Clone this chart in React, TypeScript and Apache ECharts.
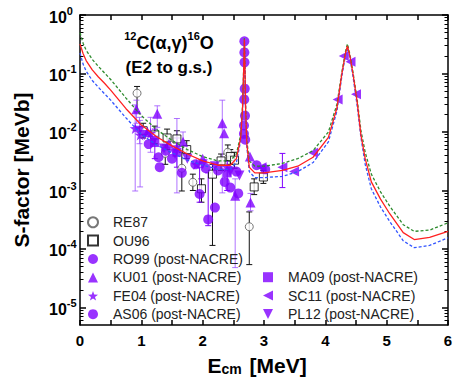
import React, { useEffect, useRef } from 'react';
import * as echarts from 'echarts';

// ---------- curves (S in MeV b vs E_cm in MeV) ----------
const curveE = [0, 0.05, 0.1, 0.2, 0.3, 0.4, 0.5, 0.75, 1.0, 1.25, 1.5, 1.75, 2.0, 2.25, 2.45, 2.55, 2.62, 2.65, 2.67, 2.68, 2.69, 2.7, 2.72, 2.76, 2.85, 3.0, 3.3, 3.55, 3.8, 4.05, 4.19, 4.27, 4.33, 4.36, 4.4, 4.45, 4.52, 4.58, 4.65, 4.75, 4.9, 5.05, 5.27, 5.45, 5.7, 6.0];
const curveRed = [0.32, 0.22, 0.166, 0.115, 0.087, 0.068, 0.052, 0.025, 0.0132, 0.0083, 0.0058, 0.0042, 0.0032, 0.0027, 0.0027, 0.0035, 0.0079, 0.025, 0.126, 0.38, 0.126, 0.025, 0.0063, 0.0025, 0.002, 0.002, 0.0022, 0.0026, 0.0037, 0.0081, 0.026, 0.1, 0.224, 0.295, 0.2, 0.1, 0.032, 0.0089, 0.0035, 0.0014, 0.00071, 0.0004, 0.00019, 0.000145, 0.000158, 0.0002];
const curveGreen = [0.5, 0.33, 0.25, 0.174, 0.132, 0.102, 0.079, 0.038, 0.019, 0.011, 0.0072, 0.005, 0.0038, 0.0032, 0.0032, 0.0042, 0.0089, 0.028, 0.141, 0.4, 0.141, 0.028, 0.0071, 0.0032, 0.0026, 0.0026, 0.0029, 0.0035, 0.0048, 0.01, 0.03, 0.107, 0.24, 0.32, 0.214, 0.107, 0.035, 0.0107, 0.0045, 0.0019, 0.00095, 0.00054, 0.00026, 0.0002, 0.00021, 0.00028];
const curveBlue = [0.224, 0.145, 0.11, 0.076, 0.058, 0.045, 0.035, 0.0174, 0.0091, 0.006, 0.0044, 0.0033, 0.0027, 0.0023, 0.0023, 0.003, 0.0071, 0.022, 0.112, 0.355, 0.112, 0.022, 0.0056, 0.0021, 0.00166, 0.00166, 0.00174, 0.0021, 0.003, 0.0068, 0.023, 0.091, 0.209, 0.275, 0.186, 0.091, 0.0275, 0.0081, 0.0028, 0.00107, 0.00052, 0.000295, 0.000138, 0.000105, 0.000115, 0.000155];

// ---------- data sets: [E, S, S_low, S_high] ----------
const RE87 = [
  [0.93, 0.046, 0.022, 0.06],
  [1.39, 0.0043, 0.0028, 0.006],
  [1.66, 0.0024, 0.00098, 0.0045],
  [1.84, 0.00138, 0.001, 0.0019],
  [2.41, 0.0045, 0.0032, 0.006],
  [2.76, 0.00024, 0.000054, 0.00043],
];
const OU96 = [
  [1.03, 0.0105, 0.0079, 0.0141],
  [1.22, 0.0089, 0.0063, 0.0126],
  [1.42, 0.0079, 0.005, 0.0112],
  [1.58, 0.0076, 0.005, 0.0105],
  [1.74, 0.005, 0.0035, 0.0071],
  [1.98, 0.00107, 0.00063, 0.00158],
  [2.16, 0.0019, 0.000115, 0.0028],
  [2.3, 0.0032, 0.0022, 0.0042],
  [2.45, 0.0038, 0.0028, 0.005],
  [2.52, 0.0033, 0.0024, 0.0045],
  [2.84, 0.00115, 0.00085, 0.00158],
  [2.99, 0.0017, 0.00132, 0.0022],
];
const RO99 = [
  [2.68, 0.355], [2.68, 0.229], [2.682, 0.155], [2.686, 0.055], [2.678, 0.036],
  [2.69, 0.019], [2.674, 0.0129], [2.673, 0.0093], [2.694, 0.0074],
  [2.88, 0.0027], [3.02, 0.0023],
];
const KU01 = [
  [0.92, 0.0245, 0.0141, 0.035],
  [1.1, 0.01],
  [1.26, 0.0204, 0.012, 0.028],
  [1.45, 0.0063],
  [1.68, 0.0068, 0.0045, 0.01],
  [2.0, 0.0035],
  [2.32, 0.0141, 0.00091, 0.035],
  [2.35, 0.0095],
  [2.53, 0.00081, 0.000048, 0.00158],
  [2.77, 0.0038],
  [2.78, 0.00062, 0.00045, 0.00089],
];
const FE04 = [
  [0.9, 0.0115, 0.00098, 0.029],
  [0.98, 0.0089, 0.00115, 0.0158],
  [1.15, 0.0095, 0.0045, 0.0178],
  [1.58, 0.0056, 0.00091, 0.017],
  [1.9, 0.0028],
  [2.4, 0.0025],
];
const AS06 = [
  [1.28, 0.0037], [1.3, 0.0025], [1.5, 0.0035], [1.66, 0.002], [1.88, 0.0028],
  [1.95, 0.00087, 0.00063, 0.0025], [2.05, 0.0024], [2.09, 0.00032, 0.00025, 0.002],
  [2.2, 0.00051], [2.25, 0.0022], [2.36, 0.0014], [2.45, 0.00112], [2.58, 0.00089],
  [1.12, 0.0062], [1.4, 0.0048], [2.55, 0.0021],
];
const MA09 = [
  [1.22, 0.0066, 0.0035, 0.0112],
  [1.58, 0.0045, 0.0025, 0.0079],
  [2.4, 0.002, 0.001, 0.0032],
];
const SC11 = [
  [2.96, 0.0025], [3.3, 0.0025, 0.00112, 0.0043], [3.49, 0.0021], [3.8, 0.0044],
  [4.2, 0.036], [4.3, 0.2], [4.41, 0.158], [4.5, 0.044],
];
const PL12 = [
  [0.97, 0.0105, 0.0063, 0.0178], [1.05, 0.0089], [1.2, 0.0071], [1.37, 0.0052],
  [1.55, 0.0042], [1.75, 0.0035], [2.0, 0.0028], [2.2, 0.0026], [2.45, 0.0021], [2.6, 0.0018],
];

// ---------- axes ----------
const yDecades = [-5, -4, -3, -2, -1, 0];
const minorMultipliers = [2, 3, 4, 5, 6, 7, 8, 9];
const yMinLog = -5.3;
const yStep = 0.1;
const xMin = 0, xMax = 6, xStep = 0.5;

const legendLeft = ['RE87', 'OU96', 'RO99 (post-NACRE)', 'KU01 (post-NACRE)', 'FE04 (post-NACRE)', 'AS06 (post-NACRE)'];
const legendRight = ['MA09 (post-NACRE)', 'SC11 (post-NACRE)', 'PL12 (post-NACRE)'];

const FONT = '"Liberation Sans", Arial, sans-serif';
const PURPLE = '#7f00ff';
const LIGHT = 'rgba(150, 70, 255, 0.75)';

const STAR = 'path://M0,-10L2.35,-3.24L9.51,-3.09L3.8,1.24L5.88,8.09L0,4L-5.88,8.09L-3.8,1.24L-9.51,-3.09L-2.35,-3.24Z';
const LEFT_TRI = 'path://M0,5L10,0L10,10Z';
const DOWN_TRI = 'path://M0,0L10,0L5,10Z';

const lg = (v: number) => Math.log10(v);

function pts(arr: number[][]) {
  return arr.map((p) => [p[0], lg(p[1])]);
}
function errs(arr: number[][]) {
  return arr.filter((p) => p.length > 3).map((p) => [p[0], lg(p[2]), lg(p[3])]);
}

function errSeries(data: number[][], color: string) {
  return {
    type: 'custom',
    data,
    z: 2,
    silent: true,
    clip: true,
    encode: { x: 0, y: [1, 2] },
    renderItem: (_params: any, api: any) => {
      const x = api.value(0);
      const p1 = api.coord([x, api.value(1)]);
      const p2 = api.coord([x, api.value(2)]);
      const hw = 3;
      const st = { stroke: color, lineWidth: 1 };
      return {
        type: 'group',
        children: [
          { type: 'line', shape: { x1: p1[0], y1: p1[1], x2: p2[0], y2: p2[1] }, style: st },
          { type: 'line', shape: { x1: p1[0] - hw, y1: p1[1], x2: p1[0] + hw, y2: p1[1] }, style: st },
          { type: 'line', shape: { x1: p2[0] - hw, y1: p2[1], x2: p2[0] + hw, y2: p2[1] }, style: st },
        ],
      };
    },
  };
}

function scatter(name: string, arr: number[][], symbol: string, size: number, itemStyle: any) {
  return {
    type: 'scatter',
    name,
    data: pts(arr),
    symbol,
    symbolSize: size,
    itemStyle,
    z: 3,
  };
}

function curve(vals: number[], color: string, dashed: boolean) {
  return {
    type: 'line',
    data: curveE.map((e, i) => [e, lg(vals[i])]),
    showSymbol: false,
    symbol: 'none',
    z: 5,
    silent: true,
    lineStyle: { color, width: 1.3, type: dashed ? [3, 2] : 'solid' },
  };
}

export default function App() {
  const ref = useRef<HTMLDivElement>(null);
  useEffect(() => {
    if (!ref.current) return;
    const chart = echarts.init(ref.current, null, { renderer: 'svg' });
    const minorTicks: number[] = [];
    for (let d = -6; d < 0; d++) {
      for (const m of minorMultipliers) {
        const v = d + lg(m);
        if (v > yMinLog && v < 0) minorTicks.push(v);
      }
    }
    const axisLine = { show: true, onZero: false, lineStyle: { color: '#000', width: 1.5 } };
    const yBase = { type: 'value', min: yMinLog, max: 0, interval: yStep, splitLine: { show: false } };
    const xBase = { type: 'value', min: xMin, max: xMax, interval: xStep, splitLine: { show: false } };
    const labelRich = {
      b: { fontSize: 16, fontWeight: 'bold', fontFamily: FONT, color: '#000', lineHeight: 20, verticalAlign: 'bottom' },
      s: { fontSize: 11, fontWeight: 'bold', fontFamily: FONT, color: '#000', lineHeight: 11, verticalAlign: 'top' },
    };
    const legendCommon = {
      orient: 'vertical',
      itemWidth: 10,
      itemHeight: 10,
      itemGap: 0,
      padding: 0,
      selectedMode: false,
      textStyle: { fontSize: 14, fontFamily: FONT, color: '#222', lineHeight: 18.4, padding: [0, 0, 0, 10] },
    };
    chart.setOption({
      animation: false,
      backgroundColor: '#fff',
      grid: { left: 80, top: 15, right: 8, bottom: 53, containLabel: false, outerBoundsMode: 'none' },
      xAxis: [
        {
          ...xBase,
          position: 'bottom',
          axisLine,
          axisTick: { inside: true, length: 5, lineStyle: { width: 1.5, color: '#000' } },
          axisLabel: {
            margin: 8,
            fontSize: 15,
            fontWeight: 'bold',
            fontFamily: FONT,
            color: '#000',
            formatter: (v: number) => (Math.abs(v - Math.round(v)) < 1e-6 ? String(Math.round(v)) : ''),
          },
          name: '{m|E}{s|cm}{m| [MeV]}',
          nameLocation: 'middle',
          nameGap: 21,
          nameTextStyle: {
            padding: [0, 14, 0, 0],
            rich: {
              m: { fontSize: 21, fontWeight: 'bold', fontFamily: FONT, color: '#000', lineHeight: 21, verticalAlign: 'top' },
              s: { fontSize: 14, fontWeight: 'bold', fontFamily: FONT, color: '#000', lineHeight: 14, padding: [9, 2, 0, 0], verticalAlign: 'bottom' },
            },
          },
        },
        {
          ...xBase,
          position: 'top',
          axisLine,
          axisTick: { inside: true, length: 5, lineStyle: { width: 1.5, color: '#000' } },
          axisLabel: { show: false },
        },
      ],
      yAxis: [
        {
          ...yBase,
          position: 'left',
          axisLine,
          axisTick: { inside: true, length: 6, customValues: yDecades, lineStyle: { width: 1.5, color: '#000' } },
          axisLabel: {
            customValues: yDecades,
            align: 'left',
            margin: 31,
            formatter: (v: number) => `{b|10}{s|${Math.round(v)}}`,
            rich: labelRich,
          },
          name: 'S-factor [MeVb]',
          nameLocation: 'middle',
          nameGap: 48,
          nameTextStyle: { fontSize: 21, fontWeight: 'bold', fontFamily: FONT, color: '#000' },
        },
        {
          ...yBase,
          position: 'left',
          axisLine: { show: false, onZero: false },
          axisTick: { inside: true, length: 3.5, customValues: minorTicks, lineStyle: { width: 1, color: '#000' } },
          axisLabel: { show: false },
        },
        {
          ...yBase,
          position: 'right',
          axisLine,
          axisTick: { inside: true, length: 6, customValues: yDecades, lineStyle: { width: 1.5, color: '#000' } },
          axisLabel: { show: false },
        },
        {
          ...yBase,
          position: 'right',
          axisLine: { show: false, onZero: false },
          axisTick: { inside: true, length: 3.5, customValues: minorTicks, lineStyle: { width: 1, color: '#000' } },
          axisLabel: { show: false },
        },
      ],
      legend: [
        { ...legendCommon, data: legendLeft, left: 87, top: 213 },
        { ...legendCommon, data: legendRight, left: 263, top: 268 },
      ],
      graphic: [
        {
          type: 'text',
          x: 169,
          y: 41,
          style: {
            text: '{s|12}{b|C(α,γ)}{s|16}{b|O}',
            textAlign: 'center',
            textVerticalAlign: 'middle',
            rich: {
              b: { fontSize: 18, fontWeight: 'bold', fontFamily: FONT, fill: '#000', lineHeight: 22, verticalAlign: 'bottom' },
              s: { fontSize: 11, fontWeight: 'bold', fontFamily: FONT, fill: '#000', lineHeight: 11, verticalAlign: 'top' },
            },
          },
        },
        {
          type: 'text',
          x: 169,
          y: 67,
          style: {
            text: '(E2 to g.s.)',
            font: `bold 17px ${FONT}`,
            fill: '#000',
            textAlign: 'center',
            textVerticalAlign: 'middle',
          },
        },
      ],
      series: [
        errSeries(errs(RE87), '#111'),
        errSeries(errs(OU96), '#111'),
        errSeries(errs(KU01), LIGHT),
        errSeries(errs(FE04), LIGHT),
        errSeries(errs(AS06), PURPLE),
        errSeries(errs(MA09), PURPLE),
        errSeries(errs(SC11), PURPLE),
        errSeries(errs(PL12), LIGHT),
        scatter('RE87', RE87, 'circle', 8, { color: '#fff', borderColor: '#555', borderWidth: 1 }),
        scatter('OU96', OU96, 'rect', 8, { color: '#fff', borderColor: '#000', borderWidth: 1 }),
        scatter('RO99 (post-NACRE)', RO99, 'circle', 10, { color: PURPLE }),
        scatter('KU01 (post-NACRE)', KU01, 'triangle', 10, { color: PURPLE }),
        scatter('FE04 (post-NACRE)', FE04, STAR, 11, { color: PURPLE }),
        scatter('AS06 (post-NACRE)', AS06, 'circle', 10, { color: PURPLE }),
        scatter('MA09 (post-NACRE)', MA09, 'rect', 9, { color: PURPLE }),
        scatter('SC11 (post-NACRE)', SC11, LEFT_TRI, 10, { color: PURPLE }),
        scatter('PL12 (post-NACRE)', PL12, DOWN_TRI, 10, { color: PURPLE }),
        curve(curveGreen, '#2e8b2e', true),
        curve(curveBlue, '#3355ff', true),
        curve(curveRed, '#ff2020', false),
      ],
    });
    return () => chart.dispose();
  }, []);
  return <div ref={ref} style={{ position: 'fixed', left: 0, top: 0, width: 456, height: 378 }} />;
}
